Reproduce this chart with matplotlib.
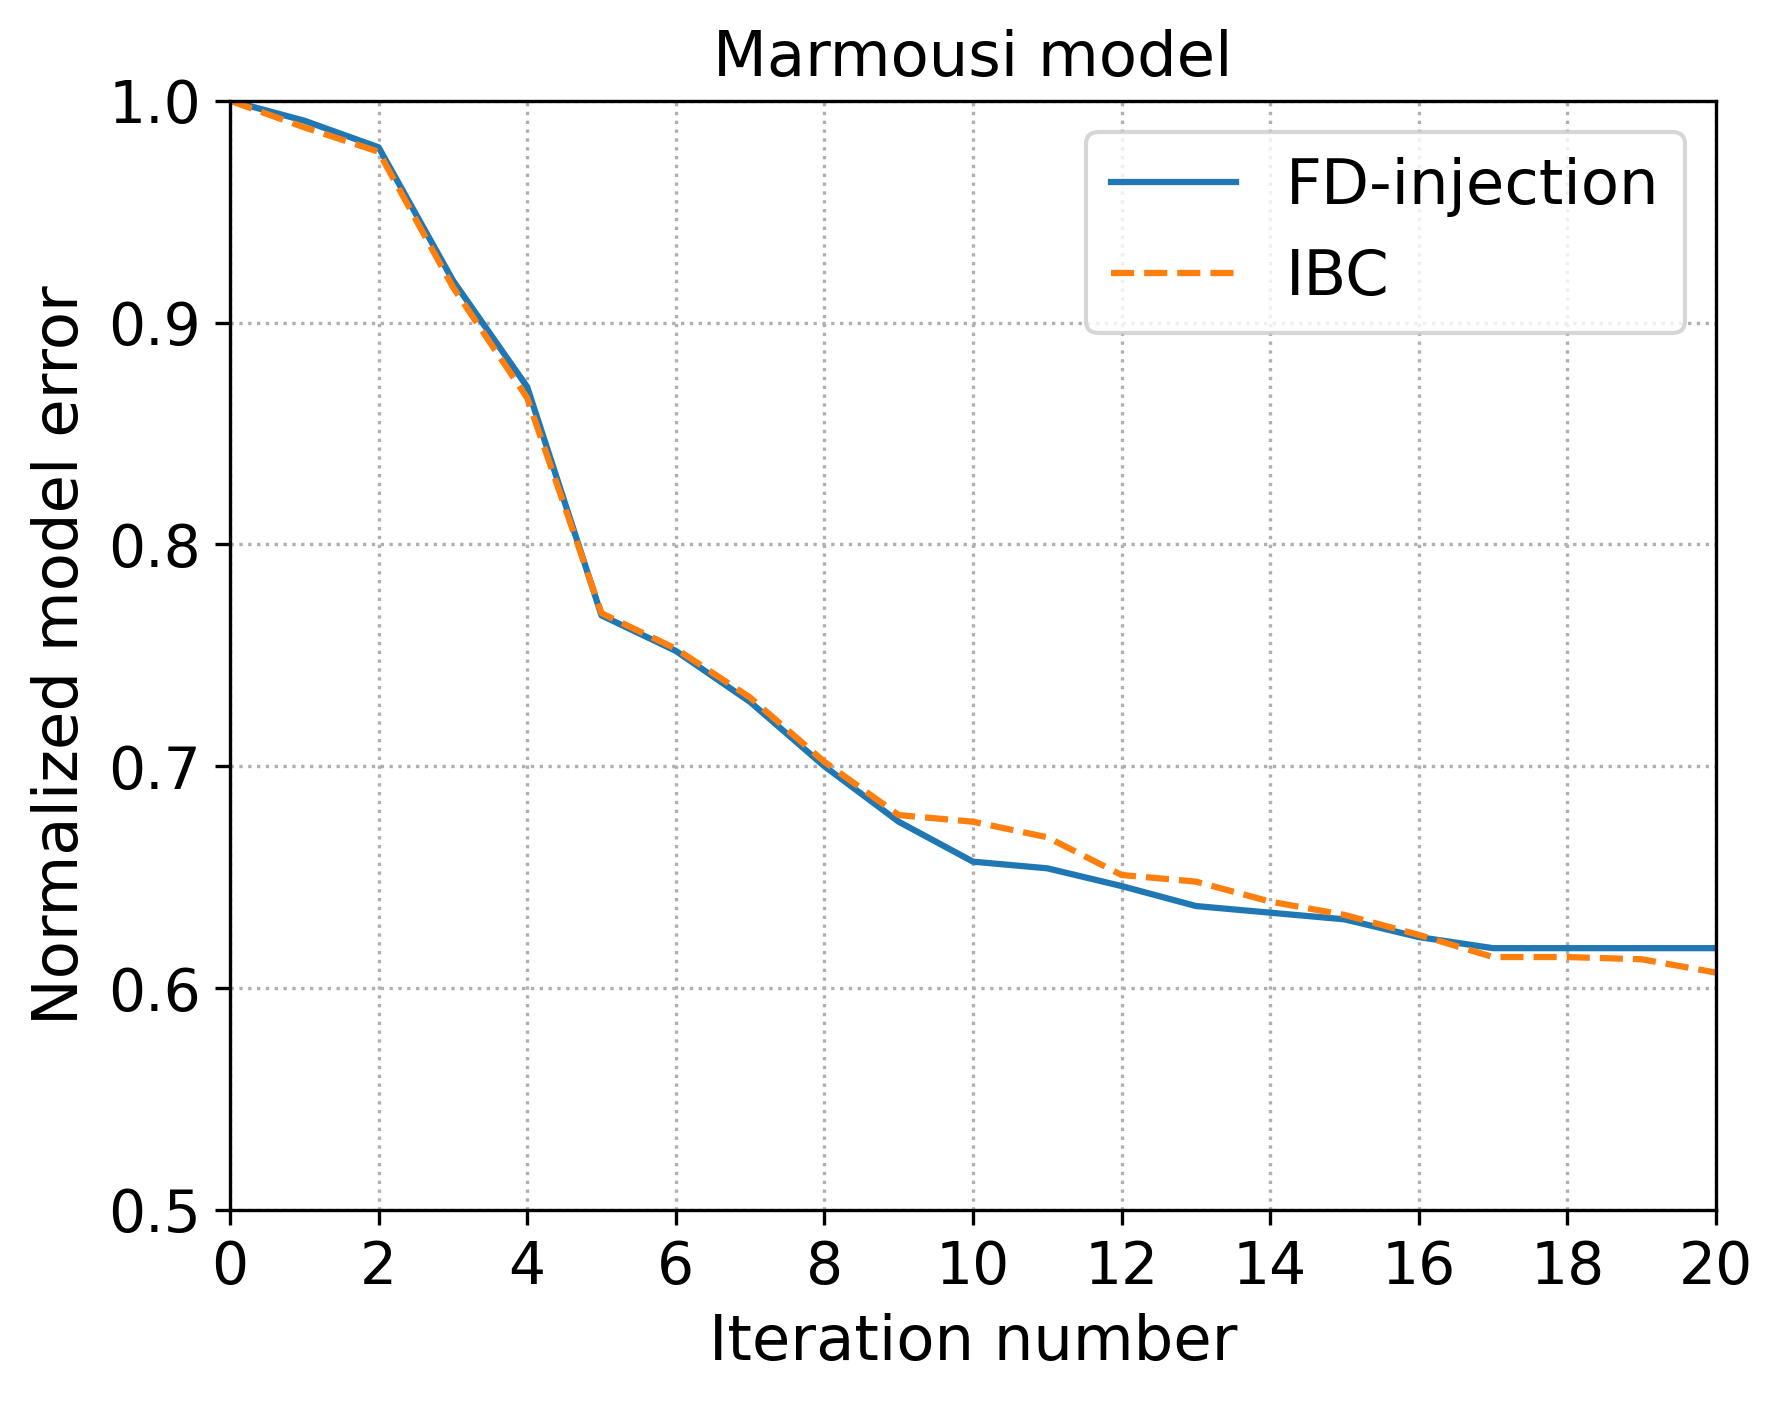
import matplotlib
matplotlib.use("Agg")
import matplotlib.pyplot as plt

iterations = list(range(21))
fd_injection = [1.000, 0.991, 0.979, 0.919, 0.871, 0.768, 0.752, 0.729, 0.700, 0.675,
                0.657, 0.654, 0.646, 0.637, 0.634, 0.631, 0.623, 0.618, 0.618, 0.618, 0.618]
ibc = [1.000, 0.988, 0.977, 0.916, 0.866, 0.769, 0.753, 0.731, 0.702, 0.678,
       0.675, 0.668, 0.651, 0.648, 0.639, 0.633, 0.624, 0.614, 0.614, 0.613, 0.607]

fig = plt.figure(figsize=(1783 / 300, 1403 / 300), dpi=300)
ax = fig.add_axes([0.129, 0.1376, 0.9624 - 0.129, 0.9282 - 0.1376])

ax.plot(iterations, fd_injection, '-', color='#1f77b4', lw=1.5, label='FD-injection')
ax.plot(iterations, ibc, '--', color='#ff7f0e', lw=1.5, label='IBC')

ax.set_xlim(0, 20)
ax.set_ylim(0.5, 1.0)
ax.set_xticks(range(0, 21, 2))
ax.set_yticks([0.5, 0.6, 0.7, 0.8, 0.9, 1.0])
ax.tick_params(labelsize=14)
ax.grid(True, linestyle=':', color='#b0b0b0', lw=0.8)

ax.set_xlabel('Iteration number', fontsize=15)
ax.set_ylabel('Normalized model error', fontsize=15)
ax.set_title('Marmousi model', fontsize=15)
ax.legend(loc='upper right', fontsize=15)

fig.savefig('out.png', dpi=300)
